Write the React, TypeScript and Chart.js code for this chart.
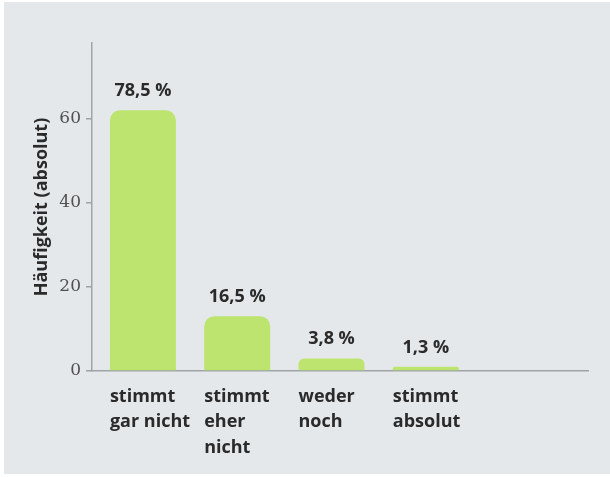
import React, { useEffect, useRef } from "react";
import { Chart, registerables } from "chart.js";

Chart.register(...registerables);

// ---- data ----
const categories: string[][] = [
  ["stimmt", "gar nicht"],
  ["stimmt", "eher", "nicht"],
  ["weder", "noch"],
  ["stimmt", "absolut"],
];
const counts: number[] = [62, 13, 3, 1];
const percentLabels: string[] = ["78,5 %", "16,5 %", "3,8 %", "1,3 %"];
const yTickValues: number[] = [0, 20, 40, 60];
const yMax = 78;
const xMin = -0.54;
const xMax = 4.72;
const yTitle = "Häufigkeit (absolut)";

const TEXT = "#2a2a2a";
const AXIS = "#9ea3a8";
const BAR = "#bde46f";
const SANS = '"Open Sans", "Noto Sans", sans-serif';

const pctPlugin = {
  id: "pctLabels",
  afterDatasetsDraw(chart: any) {
    const ctx = chart.ctx;
    const meta = chart.getDatasetMeta(0);
    ctx.save();
    ctx.font = `bold 18px ${SANS}`;
    ctx.fillStyle = TEXT;
    ctx.textAlign = "center";
    ctx.textBaseline = "alphabetic";
    meta.data.forEach((bar: any, i: number) => {
      ctx.fillText(percentLabels[i], bar.x, bar.y - 14);
    });
    ctx.restore();
  },
};

export default function App() {
  const ref = useRef<HTMLCanvasElement | null>(null);

  useEffect(() => {
    if (!ref.current) return;
    const chart = new Chart(ref.current, {
      type: "bar",
      data: {
        datasets: [
          {
            data: counts.map((c, i) => ({ x: i, y: c })),
            backgroundColor: BAR,
            borderWidth: 0,
            borderRadius: { topLeft: 10, topRight: 10, bottomLeft: 0, bottomRight: 0 },
            borderSkipped: "start",
            barPercentage: 0.7,
            categoryPercentage: 1,
          } as any,
        ],
      },
      options: {
        animation: false,
        responsive: false,
        maintainAspectRatio: false,
        layout: { padding: { top: 43, right: 22, left: 0, bottom: 0 } },
        plugins: {
          legend: { display: false },
          tooltip: { enabled: false },
          title: { display: false },
        },
        scales: {
          x: {
            type: "linear",
            offset: false,
            min: xMin,
            max: xMax,
            afterBuildTicks: (axis: any) => {
              axis.ticks = categories.map((_, i) => ({ value: i }));
            },
            afterFit: (scale: any) => {
              scale.height = 106;
            },
            grid: { display: false, drawTicks: false, offset: false },
            border: { display: true, color: AXIS, width: 1.5 },
            ticks: {
              autoSkip: false,
              maxRotation: 0,
              minRotation: 0,
              align: "start",
              labelOffset: -33,
              padding: 13,
              color: TEXT,
              font: { family: SANS, size: 18, weight: "bold", lineHeight: 1.42 },
              callback: (v: any) => categories[Math.round(Number(v))] ?? "",
            },
          },
          y: {
            type: "linear",
            min: 0,
            max: yMax,
            afterBuildTicks: (axis: any) => {
              axis.ticks = yTickValues.map((v) => ({ value: v }));
            },
            afterFit: (scale: any) => {
              scale.width = 92;
            },
            grid: {
              display: true,
              drawOnChartArea: false,
              drawTicks: true,
              tickLength: 6,
              color: AXIS,
              lineWidth: 1.5,
            },
            border: { display: true, color: AXIS, width: 1.5 },
            ticks: {
              padding: 5,
              color: "#505050",
              font: { family: '"DejaVu Serif", serif', size: 17 },
            },
            title: {
              display: true,
              text: yTitle,
              color: TEXT,
              font: { family: SANS, size: 18, weight: "bold" },
              padding: { top: 31, bottom: 0 },
            },
          },
        },
      } as any,
      plugins: [pctPlugin],
    });
    return () => chart.destroy();
  }, []);

  return (
    <div style={{ position: "absolute", left: 0, top: 0, width: 610, height: 477, background: "#ffffff" }}>
      <div style={{ position: "absolute", left: 4, top: 2, width: 606, height: 472, background: "#e4e8eb" }} />
      <canvas
        ref={ref}
        width={610}
        height={477}
        style={{ position: "absolute", left: 0, top: 0, width: 610, height: 477 }}
      />
    </div>
  );
}
